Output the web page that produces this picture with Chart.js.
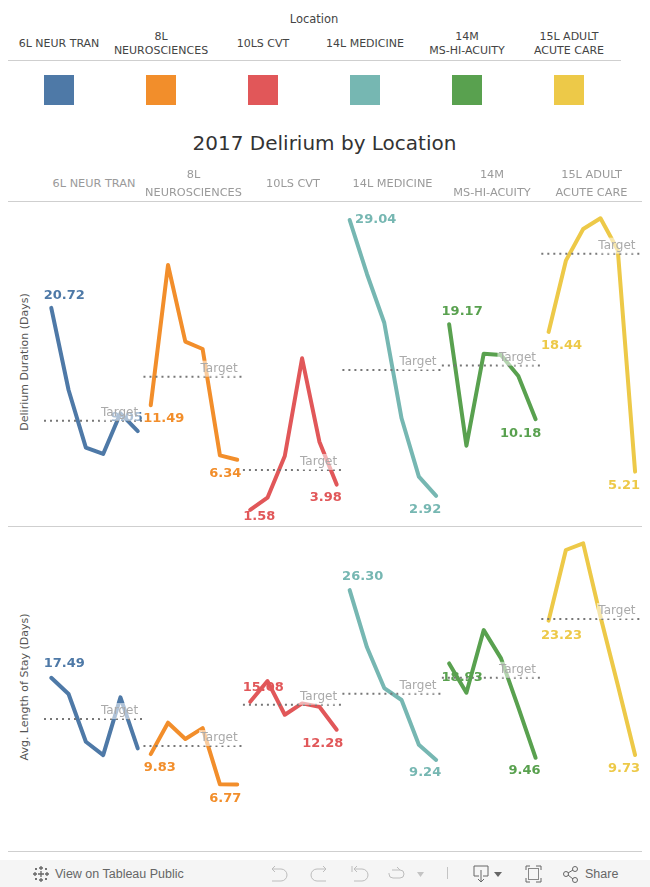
<!DOCTYPE html>
<html lang="en">

<head>
  <meta charset="UTF-8">
  <title>2017 Delirium by Location</title>
  <script src="https://cdn.jsdelivr.net/npm/chart.js"></script>
  <style>
    html, body { margin: 0; padding: 0; background: #fff; }
    body { width: 650px; height: 887px; position: relative; overflow: hidden; font-family: "DejaVu Sans", sans-serif; }
    .abs { position: absolute; }
    .rule { position: absolute; height: 1px; background: #cfcfcf; }
    .cell { position: absolute; transform: translate(-50%, -50%); text-align: center; white-space: nowrap; }
    .legendCell { font-size: 11px; line-height: 14px; color: #444; }
    .headCell { font-size: 11.3px; line-height: 18px; color: #9a9a9a; }
    .swatch { position: absolute; top: 75px; width: 30px; height: 30px; }
    .axisTitle { position: absolute; left: 18px; font-size: 11px; color: #555; writing-mode: vertical-rl; transform: translateY(-50%) rotate(180deg); white-space: nowrap; }
    canvas { position: absolute; left: 44px; }
    #toolbar { position: absolute; left: 0; top: 860px; width: 650px; height: 27px; background: #f5f5f5; }
    #toolbar span { position: absolute; top: 7px; font: 12.5px/15px "Liberation Sans", sans-serif; color: #666; }
    #toolbar svg { position: absolute; left: 0; top: 0; }
  </style>
</head>

<body>
  <div class="cell" style="left:314px;top:19px;font-size:11.5px;color:#444">Location</div>
  <div class="rule" style="left:8px;width:613px;top:60px"></div>
  <div class="cell" style="left:324.500px;top:143px;font-size:20px;color:#333">2017 Delirium by Location</div>
  <div class="rule" style="left:8px;width:634px;top:201px"></div>
  <div class="rule" style="left:8px;width:634px;top:526px"></div>
  <div class="rule" style="left:8px;width:634px;top:851px"></div>
  <div class="axisTitle" style="top:362px">Delirium Duration (Days)</div>
  <div class="axisTitle" style="top:687px">Avg. Length of Stay (Days)</div>

  <canvas id="graficoDuracao" width="598" height="325" style="top:201px"></canvas>
  <canvas id="graficoPermanencia" width="598" height="325" style="top:527px"></canvas>

  <div id="toolbar">
    <svg width="650" height="27" fill="none" stroke="#8a8a8a" stroke-width="1">
      <g stroke="#666" stroke-width="1.3">
        <path d="M41 6v4M39 8h4M41 18v4M39 20h4M35 12v4M33 14h4M47 12v4M45 14h4M41 11v6M38 14h6M36 8v2M35 9h2M46 8v2M45 9h2M36 18v2M35 19h2M46 18v2M45 19h2" />
      </g>
      <g stroke="#bdbdbd">
        <path d="M272 9h9a6 6 0 0 1 0 12h-9M272 9l3-3M272 9l3 3" />
        <path d="M326 9h-9a6 6 0 0 0 0 12h9M326 9l-3-3M326 9l-3 3" />
        <path d="M352 6v6M354 9h8a5 5 0 0 1 0 12h-8M354 9l3-3M354 9l3 3" />
        <path d="M392 10h8a4 4 0 0 1 0 8h-7a4 4 0 0 1-4-4v-1M400 10l-3-3" />
      </g>
      <path d="M417 12h7l-3.500 5z" fill="#c4c4c4" stroke="none" />
      <path d="M447.500 7v12" stroke="#c4c4c4" />
      <path d="M474 6h14v10h-5M479 16h-5V6M481 10v12M478 19l3 3 3-3" stroke="#666" />
      <path d="M494 12h8l-4 5z" fill="#666" stroke="none" />
      <path d="M526 10V6h4M536 6h5v4M541 18v4h-5M530 22h-4v-4" stroke="#666" />
      <rect x="528.500" y="8.500" width="10" height="11" stroke="#888" />
      <g stroke="#666">
        <circle cx="566" cy="14" r="2.500" />
        <circle cx="575" cy="9" r="2.500" />
        <circle cx="575" cy="20" r="2.500" />
        <path d="M568 13l5-3M568 15l5 4" />
      </g>
    </svg>
    <span style="left:55px">View on Tableau Public</span>
    <span style="left:585px">Share</span>
  </div>

  <script>
    // cabecalhos
    const locations = [['6L NEUR TRAN'], ['8L', 'NEUROSCIENCES'], ['10LS CVT'], ['14L MEDICINE'], ['14M', 'MS-HI-ACUITY'], ['15L ADULT', 'ACUTE CARE']];
    const colors = ['#4e79a7', '#f28e2b', '#e15759', '#76b7b2', '#59a14f', '#edc948'];

    // Delirium Duration (Days)
    const durNeur = [20.72, 12.94, 7.48, 6.88, 10.73, 9.05];
    const durNeuro = [11.49, 24.78, 17.52, 16.82, 6.75, 6.34];
    const durCvt = [1.58, 2.74, 6.69, 15.94, 8.05, 3.98];
    const durMed = [29.04, 23.93, 19.31, 10.26, 4.73, 2.92];
    const durAcuity = [19.17, 7.67, 16.38, 16.26, 14.26, 10.18];
    const durAdult = [18.44, 25.19, 28.19, 29.2, 26.2, 5.21];
    const durTargets = [10.03, 14.2, 5.37, 14.84, 15.25, 25.85];

    // Avg. Length of Stay (Days)
    const losNeur = [17.49, 15.86, 11.07, 9.73, 15.53, 10.4];
    const losNeuro = [9.83, 12.98, 11.34, 12.44, 6.79, 6.77];
    const losCvt = [15.08, 17.16, 13.78, 14.92, 14.58, 12.28];
    const losMed = [26.3, 20.55, 16.46, 15.26, 10.77, 9.24];
    const losAcuity = [18.93, 15.99, 22.28, 19.44, 14.52, 9.46];
    const losAdult = [23.23, 30.32, 30.99, 23.62, 16.76, 9.73];
    const losTargets = [13.35, 10.64, 14.78, 15.89, 17.49, 23.39];

    // deslocamento dos rotulos em px: [primeiro dx, dy, ultimo dx, dy], null = sem rotulo
    const durLabelOffsets = [[13, -12, -11, -13], [13, 13, -12, 14], [9, 7, -11, 13], [26, 0, -11, 14], [13, -13, -15, 14], [13, 14, -11, 14]];
    const losLabelOffsets = [[13, -14, null, null], [9, 14, -12, 14], [13, -14, -14, 14], [13, -13, -11, 13], [13, 14, -11, 13], [13, 15, -11, 14]];

    const PANEL = 5.75; // largura de um painel em "meses"
    const PAD = 0.42;
    const X_MAX = 34.15;

    const legendCenters = [59, 161, 263, 365, 467, 569];
    const headCenters = [94, 193.5, 293, 392.5, 492, 591.5];
    locations.forEach((lines, i) => {
      let a = document.createElement('div');
      a.className = 'cell legendCell';
      a.style.left = legendCenters[i] + 'px';
      a.style.top = '44px';
      a.innerHTML = lines.join('<br>');
      document.body.appendChild(a);

      let s = document.createElement('div');
      s.className = 'swatch';
      s.style.left = (legendCenters[i] - 15) + 'px';
      s.style.background = colors[i];
      document.body.appendChild(s);

      let h = document.createElement('div');
      h.className = 'cell headCell';
      h.style.left = headCenters[i] + 'px';
      h.style.top = '184px';
      h.innerHTML = lines.join('<br>');
      document.body.appendChild(h);
    });

    function criarGrafico(id, series, targets, offsets, yMin, yMax) {
      const datasets = [];

      series.forEach((valores, loc) => {
        datasets.push({
          data: valores.map((v, m) => ({ x: loc * PANEL + m, y: v })),
          borderColor: colors[loc],
          borderWidth: 4,
          borderCapStyle: 'round',
          borderJoinStyle: 'round',
          pointRadius: 0,
          tension: 0,
          order: 2
        });
      });

      targets.forEach((t, loc) => {
        datasets.push({
          data: [{ x: loc * PANEL - PAD, y: t }, { x: loc * PANEL + PANEL - PAD - 0.03, y: t }],
          borderColor: '#777',
          borderWidth: 2,
          borderDash: [2, 4],
          pointRadius: 0,
          tension: 0,
          order: 1
        });
      });

      const rotulos = {
        id: 'rotulos',
        afterDatasetsDraw(chart) {
          const ctx = chart.ctx;
          const xs = chart.scales.x;
          const ys = chart.scales.y;
          ctx.save();
          ctx.textAlign = 'center';
          ctx.textBaseline = 'middle';

          ctx.font = 'bold 13px "DejaVu Sans"';
          series.forEach((valores, loc) => {
            const off = offsets[loc];
            ctx.fillStyle = colors[loc];
            ctx.fillText(valores[0].toFixed(2), xs.getPixelForValue(loc * PANEL) + off[0], ys.getPixelForValue(valores[0]) + off[1]);
            if (off[2] !== null) {
              ctx.fillText(valores[5].toFixed(2), xs.getPixelForValue(loc * PANEL + 5) + off[2], ys.getPixelForValue(valores[5]) + off[3]);
            }
          });

          ctx.font = '12px "DejaVu Sans"';
          targets.forEach((t, loc) => {
            const x = xs.getPixelForValue(loc * PANEL + 3.95);
            const y = ys.getPixelForValue(t) - 8;
            ctx.fillStyle = 'rgba(255,255,255,0.55)';
            ctx.fillRect(x - 20, y - 8, 40, 16);
            ctx.fillStyle = '#aaaaaa';
            ctx.fillText('Target', x, y);
          });
          ctx.restore();
        }
      };

      return new Chart(document.getElementById(id), {
        type: 'line',
        data: { datasets: datasets },
        options: {
          responsive: false,
          animation: false,
          parsing: false,
          normalized: true,
          layout: { padding: 0 },
          plugins: { legend: { display: false }, tooltip: { enabled: false } },
          scales: {
            x: { type: 'linear', display: false, min: -PAD, max: X_MAX },
            y: { type: 'linear', display: false, min: yMin, max: yMax }
          }
        },
        plugins: [rotulos]
      });
    }

    criarGrafico('graficoDuracao', [durNeur, durNeuro, durCvt, durMed, durAcuity, durAdult], durTargets, durLabelOffsets, 0.06, 30.84);
    criarGrafico('graficoPermanencia', [losNeur, losNeuro, losCvt, losMed, losAcuity, losAdult], losTargets, losLabelOffsets, 0, 32.63);
  </script>
</body>

</html>
